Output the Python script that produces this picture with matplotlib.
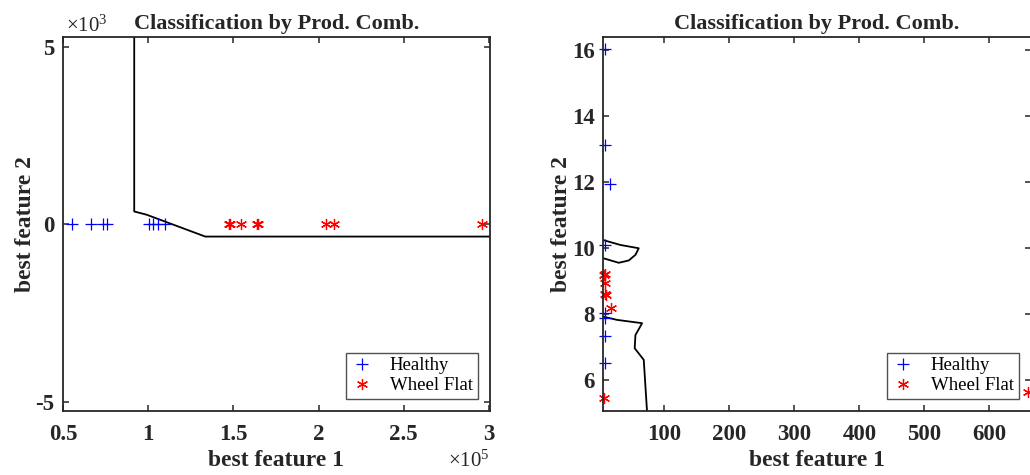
import matplotlib
matplotlib.use("Agg")
import matplotlib.pyplot as plt
from matplotlib.ticker import FuncFormatter, FixedLocator

plt.rcParams['font.family'] = ['Liberation Serif', 'DejaVu Serif']
plt.rcParams['mathtext.default'] = 'regular'

# left panel: features on a 1e5 / 1e3 scale
healthy_x1 = [0.553e5, 0.663e5, 0.733e5, 0.757e5, 1.002e5, 1.031e5, 1.055e5, 1.100e5]
healthy_y1 = [0, 0, 0, 0, 0, 0, 0, 0]
flat_x1 = [1.472e5, 1.482e5, 1.543e5, 1.639e5, 1.647e5, 2.041e5, 2.090e5, 2.957e5]
flat_y1 = [0, 0, 0, 0, 0, 0, 0, 0]
bound_x1 = [0.918e5, 0.918e5, 0.99e5, 1.335e5, 3.01e5]
bound_y1 = [5300, 360, 270, -346, -346]

# right panel
healthy_x2 = [9.2, 9.2, 16.9, 9.2, 9.2, 9.2, 9.2, 9.2]
healthy_y2 = [16.02, 13.11, 11.95, 10.09, 8.02, 7.87, 7.33, 6.50]
flat_x2 = [9.2, 6.6, 9.2, 9.2, 10.8, 18.5, 6.6, 659]
flat_y2 = [9.21, 9.18, 8.93, 8.61, 8.56, 8.17, 5.45, 5.64]
loop_x2 = [5.5, 32.3, 60.5, 55.4, 45.1, 29.7, 5.5]
loop_y2 = [10.24, 10.09, 9.99, 9.79, 9.62, 9.55, 9.69]
lower_x2 = [5.5, 27.2, 65.7, 55.4, 54.3, 68.2, 73.4]
lower_y2 = [7.92, 7.82, 7.72, 7.36, 6.96, 6.61, 5.0]

dark = '#262626'
W, H = 1030, 475
fig = plt.figure(figsize=(W / 100, H / 100), dpi=100)
ax1 = fig.add_axes([63 / W, 64 / H, 427 / W, 374 / H])
ax2 = fig.add_axes([603 / W, 64 / H, 428 / W, 374 / H])

for ax in (ax1, ax2):
    for s in ax.spines.values():
        s.set_color(dark)
        s.set_linewidth(1.3)
    ax.tick_params(direction='in', top=True, right=True, length=4, width=1.1,
                   colors=dark, labelsize=16.5)
    ax.tick_params(axis='x', pad=9)
    ax.tick_params(axis='y', pad=6)
    ax.set_title('Classification by Prod. Comb.', fontsize=16, fontweight='bold', color=dark, pad=6)
    ax.set_xlabel('best feature 1', fontsize=17, fontweight='bold', color=dark, labelpad=4)
    ax.set_ylabel('best feature 2', fontsize=17, fontweight='bold', color=dark, labelpad=0)

ax1.plot(bound_x1, bound_y1, color='black', linewidth=1.3)
ax1.plot(healthy_x1, healthy_y1, '+', color='blue', markersize=8, markeredgewidth=0.9, label='Healthy')
ax1.plot(flat_x1, flat_y1, linestyle='none', marker=(6, 2, 0), color='red', markersize=8,
         markeredgewidth=0.9, label='Wheel Flat')
ax1.set_xlim(0.5e5, 3.006e5)
ax1.set_ylim(-5255, 5270)
ax1.xaxis.set_major_locator(FixedLocator([0.5e5, 1e5, 1.5e5, 2e5, 2.5e5, 3e5]))
ax1.yaxis.set_major_locator(FixedLocator([-5000, 0, 5000]))
ax1.xaxis.set_major_formatter(FuncFormatter(lambda v, _: f"{v / 1e5:g}"))
ax1.yaxis.set_major_formatter(FuncFormatter(lambda v, _: f"{v / 1e3:g}"))
ax1.text(0.007, 1.014, r'×10$^{3}$', transform=ax1.transAxes, fontsize=15, color=dark,
         ha='left', va='baseline')
ax1.text(1.0, -0.15, r'×10$^{5}$', transform=ax1.transAxes, fontsize=15, color=dark,
         ha='right', va='baseline')

ax2.plot(loop_x2, loop_y2, color='black', linewidth=1.3)
ax2.plot(lower_x2, lower_y2, color='black', linewidth=1.3)
ax2.plot(healthy_x2, healthy_y2, '+', color='blue', markersize=8, markeredgewidth=0.9,
         label='Healthy', clip_on=False)
ax2.plot(flat_x2, flat_y2, linestyle='none', marker=(6, 2, 0), color='red', markersize=8,
         markeredgewidth=0.9, label='Wheel Flat', clip_on=False)
ax2.set_xlim(5.5, 664)
ax2.set_ylim(5.06, 16.39)
ax2.xaxis.set_major_locator(FixedLocator([100, 200, 300, 400, 500, 600]))
ax2.yaxis.set_major_locator(FixedLocator([6, 8, 10, 12, 14, 16]))

for ax in (ax1, ax2):
    for lab in ax.get_xticklabels() + ax.get_yticklabels():
        lab.set_fontweight('bold')
    leg = ax.legend(loc='lower right', bbox_to_anchor=(1 - 12.5 / ax.bbox.width, 12 / 374),
                    fontsize=13.5, frameon=True, fancybox=False, borderaxespad=0,
                    handlelength=1.2, handletextpad=0.9, borderpad=0.25, labelspacing=0.15)
    leg.get_frame().set_edgecolor(dark)
    leg.get_frame().set_linewidth(1.0)

fig.savefig('out.png', dpi=100)
